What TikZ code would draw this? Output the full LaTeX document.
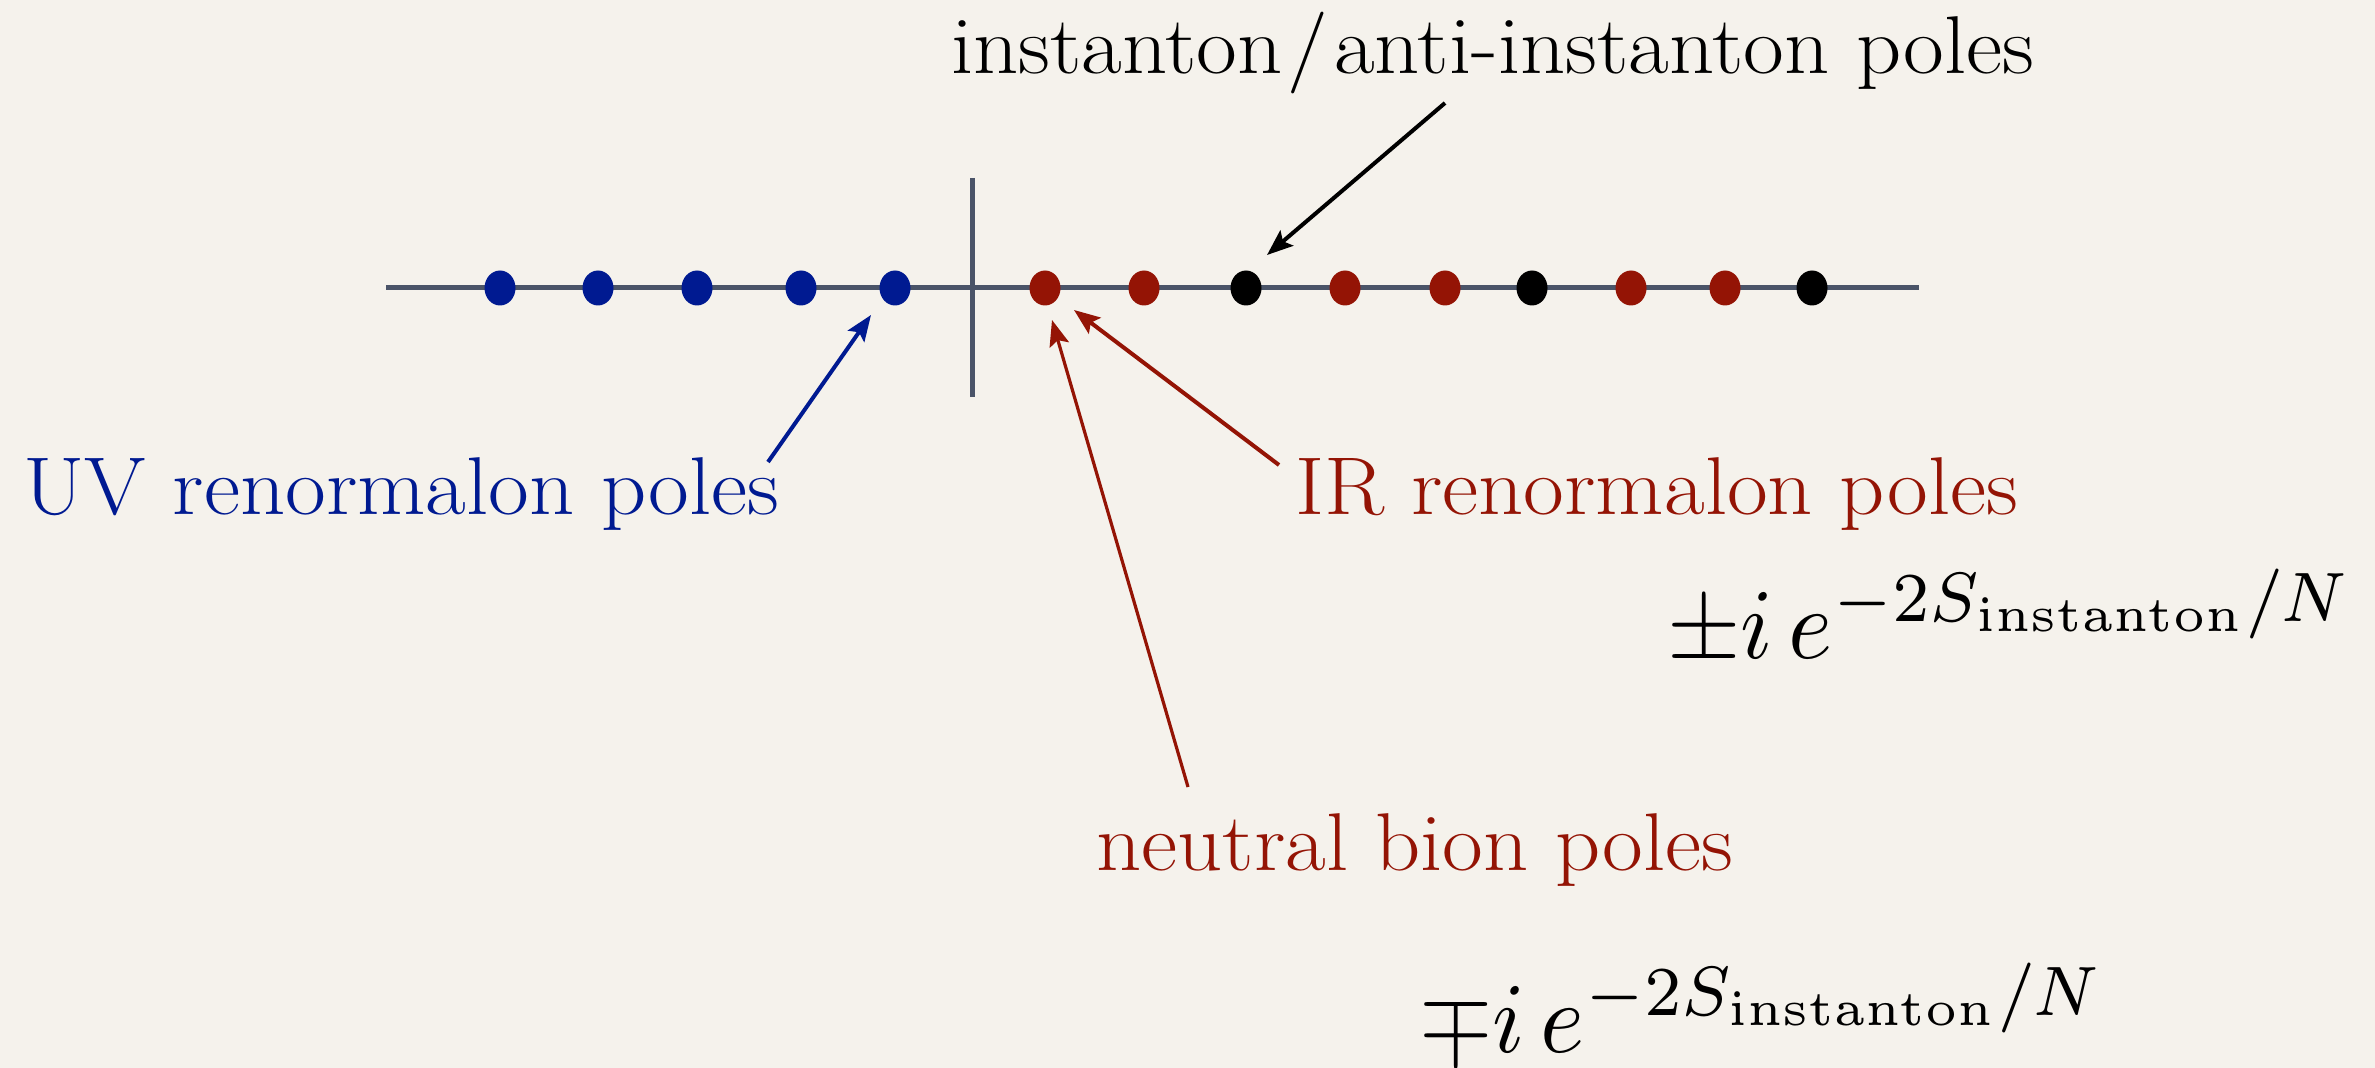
\documentclass[tikz,border=0pt]{standalone}
\usetikzlibrary{arrows.meta,shapes.geometric}
\definecolor{bg}{RGB}{245,242,236}
\definecolor{uvblue}{RGB}{0,26,145}
\definecolor{irred}{RGB}{148,20,5}
\definecolor{axisgray}{RGB}{74,84,104}
\newcommand{\wid}[1]{\scalebox{1.08}[1]{#1}}
\newcommand{\bigmath}[1]{\scalebox{4.72}[5.0]{$#1$}}
\begin{document}
\begin{tikzpicture}[x=0.5pt,y=-0.5pt,
  pole/.style={ellipse,inner sep=0pt,minimum width=15.5pt,minimum height=17.5pt,draw=none},
  uvpole/.style={pole,fill=uvblue},
  irpole/.style={pole,fill=irred},
  inpole/.style={pole,fill=black},
  lbl/.style={anchor=base west,inner sep=0pt,font=\fontsize{41}{48}\selectfont},
  mathlbl/.style={anchor=base west,inner sep=0pt},
  axisline/.style={draw=axisgray,line width=2.5pt},
  arr/.style={-{Stealth[length=13pt,width=10pt,inset=2.5pt]},line width=2pt}
]
\fill[bg] (0,0) rectangle (2375,1068);
\path[use as bounding box] (0,0) rectangle (2375,1068);
% axes
\coordinate (axL) at (386,288);
\coordinate (axR) at (1919,288);
\coordinate (vT) at (972,178);
\coordinate (vB) at (972,397);
\draw[axisline] (axL) -- (axR);
\draw[axisline] (vT) -- (vB);
% poles
\node[uvpole] (u1) at (500,288) {};
\node[uvpole] (u2) at (598,288) {};
\node[uvpole] (u3) at (697,288) {};
\node[uvpole] (u4) at (801,288) {};
\node[uvpole] (u5) at (895,288) {};
\node[irpole] (r1) at (1045,288) {};
\node[irpole] (r2) at (1144,288) {};
\node[inpole] (b1) at (1246,288) {};
\node[irpole] (r3) at (1345,288) {};
\node[irpole] (r4) at (1445,288) {};
\node[inpole] (b2) at (1532,288) {};
\node[irpole] (r5) at (1631,288) {};
\node[irpole] (r6) at (1725,288) {};
\node[inpole] (b3) at (1812,288) {};
% labels
\node[lbl] (inst) at (951,74) {\wid{instanton\kern2pt/\kern3pt anti-instanton poles}};
\node[lbl,text=uvblue] (uv) at (23,515) {\wid{UV renormalon poles}};
\node[lbl,text=irred] (ir) at (1295,515) {\wid{IR renormalon poles}};
\node[lbl,text=irred] (nb) at (1096,870) {\wid{neutral bion poles}};
\node[mathlbl] (pm) at (1667,658) {\bigmath{\pm i\,e^{-2S_{\mathrm{instanton}}/N}}};
\node[mathlbl] (mp) at (1419,1052) {\bigmath{\mp i\,e^{-2S_{\mathrm{instanton}}/N}}};
% arrow ends
\coordinate (instS) at (1445,103);
\coordinate (instT) at (1267,255);
\coordinate (uvS) at (768,462);
\coordinate (uvT) at (871,315);
\coordinate (irS) at (1279,465);
\coordinate (irT) at (1074,310);
\coordinate (nbS) at (1188,787);
\coordinate (nbT) at (1052,320);
\draw[arr,black] (instS) -- (instT);
\draw[arr,uvblue] (uvS) -- (uvT);
\draw[arr,irred] (irS) -- (irT);
\draw[arr,irred,line width=1.6pt] (nbS) -- (nbT);
\end{tikzpicture}
\end{document}
